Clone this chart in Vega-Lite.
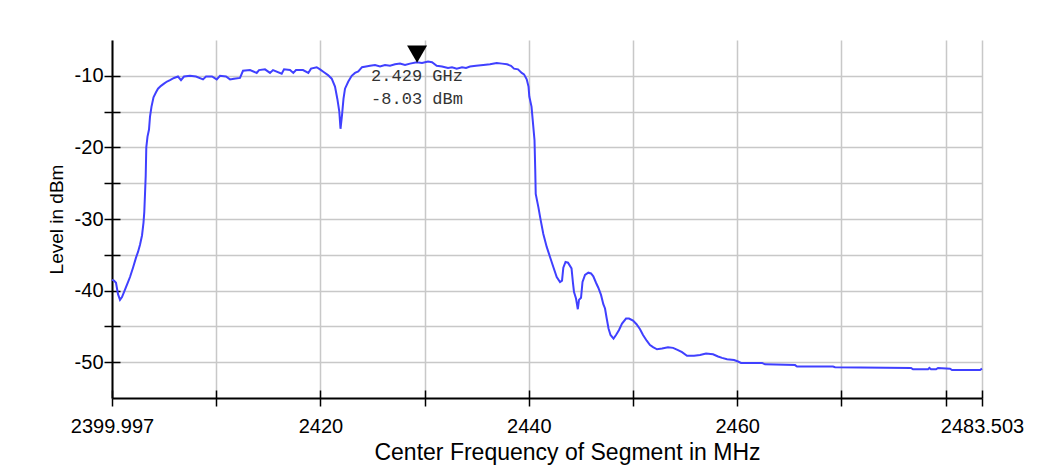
{
  "$schema": "https://vega.github.io/schema/vega-lite/v6.json",
  "width": 870,
  "height": 358,
  "autosize": {"type": "none"},
  "padding": {"left": 112, "top": 40, "right": 56, "bottom": 73},
  "background": "white",
  "config": {"view": {"stroke": null}, "font": "Liberation Sans"},
  "datasets": {
    "trace": [
      {"freq": 2399.997, "level": -38.5}, {"freq": 2400.189, "level": -38.6}, {"freq": 2400.381, "level": -38.9},
      {"freq": 2400.573, "level": -40.5}, {"freq": 2400.765, "level": -41.3}, {"freq": 2400.957, "level": -40.9},
      {"freq": 2401.149, "level": -40.2}, {"freq": 2401.341, "level": -39.5}, {"freq": 2401.533, "level": -38.8},
      {"freq": 2401.725, "level": -38.1}, {"freq": 2402.013, "level": -36.8}, {"freq": 2402.301, "level": -35.4},
      {"freq": 2402.493, "level": -34.6}, {"freq": 2402.685, "level": -33.6}, {"freq": 2402.877, "level": -32.3},
      {"freq": 2403.021, "level": -30.5}, {"freq": 2403.097, "level": -29.0}, {"freq": 2403.165, "level": -26.5},
      {"freq": 2403.232, "level": -24.0}, {"freq": 2403.289, "level": -20.0}, {"freq": 2403.405, "level": -18.5},
      {"freq": 2403.549, "level": -17.5}, {"freq": 2403.645, "level": -15.7}, {"freq": 2403.789, "level": -14.3},
      {"freq": 2403.981, "level": -13.0}, {"freq": 2404.22, "level": -12.3}, {"freq": 2404.412, "level": -11.8},
      {"freq": 2404.7, "level": -11.4}, {"freq": 2404.988, "level": -11.1}, {"freq": 2405.276, "level": -10.8},
      {"freq": 2405.564, "level": -10.6}, {"freq": 2405.948, "level": -10.3}, {"freq": 2406.332, "level": -10.1},
      {"freq": 2406.62, "level": -10.6}, {"freq": 2406.908, "level": -10.1}, {"freq": 2407.484, "level": -10.0},
      {"freq": 2408.06, "level": -10.1}, {"freq": 2408.732, "level": -10.5}, {"freq": 2409.02, "level": -10.1},
      {"freq": 2409.596, "level": -10.1}, {"freq": 2410.047, "level": -10.5}, {"freq": 2410.364, "level": -10.0},
      {"freq": 2410.94, "level": -10.1}, {"freq": 2411.324, "level": -10.5}, {"freq": 2411.708, "level": -10.4},
      {"freq": 2412.283, "level": -10.3}, {"freq": 2412.571, "level": -9.3}, {"freq": 2413.243, "level": -9.2},
      {"freq": 2413.886, "level": -9.6}, {"freq": 2414.107, "level": -9.2}, {"freq": 2414.683, "level": -9.1},
      {"freq": 2415.163, "level": -9.6}, {"freq": 2415.451, "level": -9.2}, {"freq": 2416.286, "level": -9.7},
      {"freq": 2416.507, "level": -9.1}, {"freq": 2417.083, "level": -9.2}, {"freq": 2417.4, "level": -9.6},
      {"freq": 2417.659, "level": -9.2}, {"freq": 2418.331, "level": -9.2}, {"freq": 2418.84, "level": -9.6},
      {"freq": 2419.099, "level": -9.0}, {"freq": 2419.646, "level": -8.8}, {"freq": 2419.963, "level": -9.1},
      {"freq": 2420.346, "level": -9.5}, {"freq": 2420.73, "level": -9.9}, {"freq": 2421.086, "level": -10.4},
      {"freq": 2421.402, "level": -11.5}, {"freq": 2421.623, "level": -13.2}, {"freq": 2421.815, "level": -15.0},
      {"freq": 2421.93, "level": -17.4}, {"freq": 2422.074, "level": -15.5}, {"freq": 2422.218, "level": -13.2},
      {"freq": 2422.362, "level": -11.8}, {"freq": 2422.679, "level": -10.8}, {"freq": 2423.005, "level": -10.0},
      {"freq": 2423.322, "level": -9.6}, {"freq": 2423.639, "level": -9.4}, {"freq": 2423.994, "level": -8.8},
      {"freq": 2424.378, "level": -8.7}, {"freq": 2424.762, "level": -8.6}, {"freq": 2425.242, "level": -8.5},
      {"freq": 2425.722, "level": -8.7}, {"freq": 2426.202, "level": -8.5}, {"freq": 2426.682, "level": -8.6},
      {"freq": 2427.162, "level": -8.4}, {"freq": 2427.642, "level": -8.3}, {"freq": 2428.121, "level": -8.5},
      {"freq": 2428.601, "level": -8.3}, {"freq": 2429.245, "level": -8.1}, {"freq": 2429.753, "level": -8.2},
      {"freq": 2430.329, "level": -8.0}, {"freq": 2430.713, "level": -8.1}, {"freq": 2431.164, "level": -8.6},
      {"freq": 2431.673, "level": -8.7}, {"freq": 2432.249, "level": -8.9}, {"freq": 2432.633, "level": -8.8},
      {"freq": 2433.084, "level": -9.0}, {"freq": 2433.593, "level": -8.8}, {"freq": 2433.977, "level": -8.9},
      {"freq": 2434.361, "level": -8.7}, {"freq": 2434.937, "level": -8.6}, {"freq": 2435.637, "level": -8.5},
      {"freq": 2436.28, "level": -8.4}, {"freq": 2436.923, "level": -8.2}, {"freq": 2437.432, "level": -8.3},
      {"freq": 2437.912, "level": -8.4}, {"freq": 2438.296, "level": -8.6}, {"freq": 2438.584, "level": -9.0},
      {"freq": 2438.968, "level": -9.1}, {"freq": 2439.323, "level": -9.6}, {"freq": 2439.544, "level": -9.8},
      {"freq": 2439.803, "level": -10.5}, {"freq": 2439.976, "level": -11.5}, {"freq": 2440.053, "level": -12.9},
      {"freq": 2440.264, "level": -14.3}, {"freq": 2440.379, "level": -16.2}, {"freq": 2440.552, "level": -19.0},
      {"freq": 2440.619, "level": -23.0}, {"freq": 2440.667, "level": -26.5}, {"freq": 2440.917, "level": -28.3},
      {"freq": 2441.147, "level": -30.2}, {"freq": 2441.397, "level": -32.1}, {"freq": 2441.723, "level": -33.9},
      {"freq": 2442.04, "level": -35.3}, {"freq": 2442.357, "level": -36.7}, {"freq": 2442.683, "level": -38.1},
      {"freq": 2443.0, "level": -38.8}, {"freq": 2443.192, "level": -38.6}, {"freq": 2443.317, "level": -36.8},
      {"freq": 2443.528, "level": -36.0}, {"freq": 2443.768, "level": -36.1}, {"freq": 2444.104, "level": -36.9},
      {"freq": 2444.247, "level": -39.0}, {"freq": 2444.343, "level": -40.2}, {"freq": 2444.535, "level": -41.1},
      {"freq": 2444.708, "level": -42.6}, {"freq": 2444.823, "level": -41.3}, {"freq": 2445.015, "level": -41.0},
      {"freq": 2445.159, "level": -38.8}, {"freq": 2445.399, "level": -37.8}, {"freq": 2445.716, "level": -37.5},
      {"freq": 2445.975, "level": -37.6}, {"freq": 2446.196, "level": -38.0}, {"freq": 2446.455, "level": -38.9},
      {"freq": 2446.676, "level": -39.6}, {"freq": 2446.935, "level": -40.6}, {"freq": 2447.156, "level": -41.9},
      {"freq": 2447.319, "level": -42.5}, {"freq": 2447.482, "level": -43.9}, {"freq": 2447.655, "level": -45.3},
      {"freq": 2447.847, "level": -46.2}, {"freq": 2448.135, "level": -46.7}, {"freq": 2448.375, "level": -46.2},
      {"freq": 2448.663, "level": -45.5}, {"freq": 2448.951, "level": -44.6}, {"freq": 2449.335, "level": -43.9},
      {"freq": 2449.623, "level": -43.9}, {"freq": 2450.007, "level": -44.2}, {"freq": 2450.343, "level": -44.7},
      {"freq": 2450.679, "level": -45.4}, {"freq": 2450.967, "level": -46.2}, {"freq": 2451.322, "level": -47.0},
      {"freq": 2451.639, "level": -47.6}, {"freq": 2451.927, "level": -47.9}, {"freq": 2452.31, "level": -48.2},
      {"freq": 2452.79, "level": -48.1}, {"freq": 2453.366, "level": -47.9}, {"freq": 2453.846, "level": -48.0},
      {"freq": 2454.326, "level": -48.3}, {"freq": 2454.71, "level": -48.6}, {"freq": 2455.19, "level": -49.1},
      {"freq": 2455.862, "level": -49.1}, {"freq": 2456.438, "level": -49.0}, {"freq": 2457.014, "level": -48.8},
      {"freq": 2457.686, "level": -48.9}, {"freq": 2458.166, "level": -49.2}, {"freq": 2458.55, "level": -49.4},
      {"freq": 2459.031, "level": -49.6}, {"freq": 2459.702, "level": -49.7}, {"freq": 2460.086, "level": -49.9},
      {"freq": 2460.374, "level": -50.1}, {"freq": 2462.39, "level": -50.1}, {"freq": 2462.678, "level": -50.3},
      {"freq": 2465.558, "level": -50.4}, {"freq": 2465.75, "level": -50.6}, {"freq": 2469.204, "level": -50.6},
      {"freq": 2469.396, "level": -50.7}, {"freq": 2476.691, "level": -50.8}, {"freq": 2476.883, "level": -51.0},
      {"freq": 2478.323, "level": -51.0}, {"freq": 2478.448, "level": -50.8}, {"freq": 2478.611, "level": -51.0},
      {"freq": 2479.091, "level": -51.0}, {"freq": 2479.283, "level": -50.8}, {"freq": 2480.435, "level": -50.9},
      {"freq": 2480.627, "level": -51.1}, {"freq": 2483.314, "level": -51.1}, {"freq": 2483.503, "level": -50.9}
    ],
    "marker": [{"freq": 2429.28, "level": -8.03, "label": "2.429 GHz\n-8.03 dBm"}]
  },
  "layer": [
    {
      "data": {"name": "trace"},
      "mark": {"type": "line", "color": "#4040ff", "strokeWidth": 2},
      "encoding": {
        "x": {
          "field": "freq", "type": "quantitative",
          "scale": {"domain": [2399.997, 2483.503], "nice": false, "zero": false},
          "axis": {
            "orient": "bottom",
            "values": [2399.997, 2410, 2420, 2430, 2440, 2450, 2460, 2470, 2480, 2483.503],
            "labelExpr": "indexof([2399.997, 2420, 2440, 2460, 2483.503], datum.value) >= 0 ? '' + datum.value : ''",
            "grid": true, "gridColor": "#c8c8c8", "gridWidth": 1.5,
            "domainColor": "black", "domainWidth": 2,
            "tickColor": "black", "tickWidth": 1.5, "tickSize": 8,
            "labelFontSize": 20, "labelColor": "black", "labelPadding": 10,
            "labelOverlap": false, "labelFlush": false, "labelBound": false,
            "title": "Center Frequency of Segment in MHz",
            "titleFontSize": 23, "titleFontWeight": "normal", "titleColor": "black", "titlePadding": 5,
            "titleX": 455, "titleAlign": "center"
          }
        },
        "y": {
          "field": "level", "type": "quantitative",
          "scale": {"domain": [-55, -5], "nice": false, "zero": false},
          "axis": {
            "orient": "left",
            "values": [-50, -45, -40, -35, -30, -25, -20, -15, -10],
            "labelExpr": "datum.value % 10 == 0 ? '' + datum.value : ''",
            "grid": true, "gridColor": "#c8c8c8", "gridWidth": 1.5,
            "domainColor": "black", "domainWidth": 2,
            "tickColor": "black", "tickWidth": 1.5, "tickSize": 8,
            "labelFontSize": 20, "labelColor": "black", "labelPadding": 1,
            "labelOverlap": false,
            "title": "Level in dBm",
            "titleFontSize": 19, "titleFontWeight": "normal", "titleColor": "black", "titlePadding": 8
          }
        }
      }
    },
    {
      "data": {"name": "marker"},
      "mark": {"type": "point", "shape": "triangle-down", "filled": true, "color": "black", "opacity": 1, "size": 400, "yOffset": -7.5},
      "encoding": {
        "x": {
          "field": "freq", "type": "quantitative",
          "axis": {
            "orient": "bottom", "offset": -8,
            "values": [2399.997, 2410, 2420, 2430, 2440, 2450, 2460, 2470, 2480, 2483.503],
            "domain": false, "labels": false, "grid": false, "title": null,
            "tickColor": "black", "tickWidth": 1.5, "tickSize": 8
          }
        },
        "y": {
          "field": "level", "type": "quantitative",
          "axis": {
            "orient": "left", "offset": -8,
            "values": [-50, -45, -40, -35, -30, -25, -20, -15, -10],
            "domain": false, "labels": false, "grid": false, "title": null,
            "tickColor": "black", "tickWidth": 1.5, "tickSize": 8
          }
        }
      }
    },
    {
      "data": {"name": "marker"},
      "mark": {"type": "text", "align": "left", "baseline": "alphabetic", "dx": -46, "dy": 19, "font": "Liberation Mono", "fontSize": 17, "lineBreak": "\n", "lineHeight": 23, "color": "#333333"},
      "encoding": {
        "x": {"field": "freq", "type": "quantitative", "axis": null},
        "y": {"field": "level", "type": "quantitative", "axis": null},
        "text": {"field": "label"}
      }
    }
  ],
  "resolve": {"axis": {"x": "independent", "y": "independent"}}
}
